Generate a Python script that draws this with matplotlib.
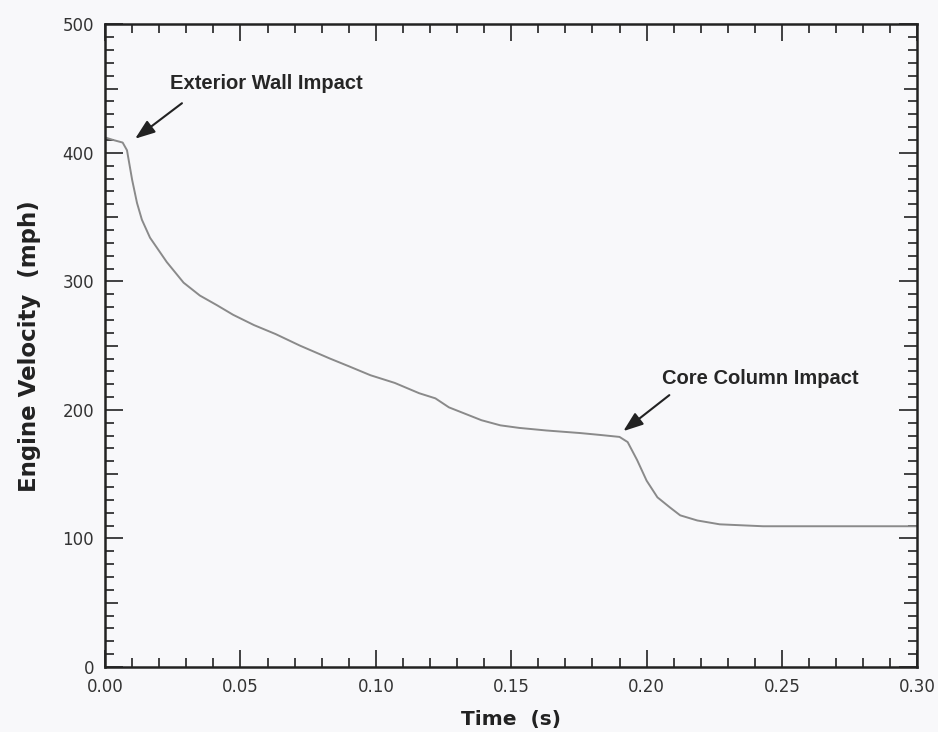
import matplotlib
matplotlib.use("Agg")
import matplotlib.pyplot as plt
from matplotlib.ticker import MultipleLocator, FuncFormatter

# Engine velocity trace
time_s = [0.000, 0.003, 0.0065, 0.0081, 0.0100, 0.0118, 0.0136, 0.0166, 0.0228, 0.029,
          0.035, 0.0413, 0.0473, 0.055, 0.063, 0.072, 0.083, 0.090, 0.098, 0.107,
          0.116, 0.122, 0.127, 0.133, 0.139, 0.146, 0.153, 0.163, 0.1755, 0.183,
          0.190, 0.193, 0.1965, 0.200, 0.204, 0.2087, 0.2124, 0.2187, 0.227, 0.243,
          0.270, 0.300]
velocity_mph = [412, 410, 408, 402, 379, 361, 348, 334, 315, 299,
                289, 281.5, 274, 266, 259, 250, 240, 234, 227, 221,
                213, 209, 202, 197, 192, 188, 186, 184, 182, 180.5,
                179, 175, 161, 145, 132, 124, 118, 114, 111, 109.5,
                109.5, 109.5]

# label, arrow tip, arrow tail, text anchor (left, centre)
annotations = [("Exterior Wall Impact", (0.0111, 411), (0.0284, 438.6), (0.024, 454)),
               ("Core Column Impact", (0.1914, 183.5), (0.2084, 211.5), (0.2058, 224.7))]

plt.rcParams['font.family'] = ['DejaVu Sans']

fig = plt.figure(figsize=(9.38, 7.32), dpi=100, facecolor='#f8f8fa')
ax = fig.add_axes([0.112, 0.0888, 0.866, 0.878])
ax.set_facecolor('#f8f8fa')

ax.plot(time_s, velocity_mph, color='#8a8a8a', lw=1.4)

for label, tip, tail, pos in annotations:
    ax.annotate('', xy=tip, xytext=tail,
                arrowprops=dict(arrowstyle='-|>,head_length=0.6,head_width=0.22', color='#222222',
                                lw=1.5, mutation_scale=20, shrinkA=0, shrinkB=0))
    ax.text(pos[0], pos[1], label, fontsize=14.5, fontweight='bold', family='Liberation Sans',
            color='#262626', ha='left', va='center')

ax.set_xlim(0, 0.30)
ax.set_ylim(0, 500)
ax.xaxis.set_major_locator(MultipleLocator(0.05))
ax.xaxis.set_minor_locator(MultipleLocator(0.01))
ax.yaxis.set_major_locator(MultipleLocator(100))
ax.yaxis.set_minor_locator(MultipleLocator(10))
ax.xaxis.set_major_formatter(FuncFormatter(lambda v, p: f"{v:.2f}"))

ax.tick_params(which='both', direction='in', top=True, right=True, labelsize=12,
               colors='#222222', labelcolor='#333333', width=1.2)
ax.tick_params(axis='x', which='major', length=12, pad=8)
ax.tick_params(axis='y', which='major', length=13, pad=8)
ax.tick_params(which='minor', length=6.5)

# half-way ticks on the y axis are a bit longer
ylocs = ax.yaxis.get_minorticklocs()
for loc, tk in zip(ylocs, ax.yaxis.get_minor_ticks(len(ylocs))):
    if round(loc) % 50 == 0:
        tk.tick1line.set_markersize(9.5)
        tk.tick2line.set_markersize(9.5)

for s in ax.spines.values():
    s.set_linewidth(1.8)
    s.set_color('#222222')

ax.set_xlabel('Time  (s)', fontsize=14.5, fontweight='bold', color='#222222', labelpad=10)
ax.set_ylabel('Engine Velocity  (mph)', fontsize=16.5, fontweight='bold', color='#222222', labelpad=15)

fig.savefig('out.png', dpi=100, facecolor=fig.get_facecolor())
